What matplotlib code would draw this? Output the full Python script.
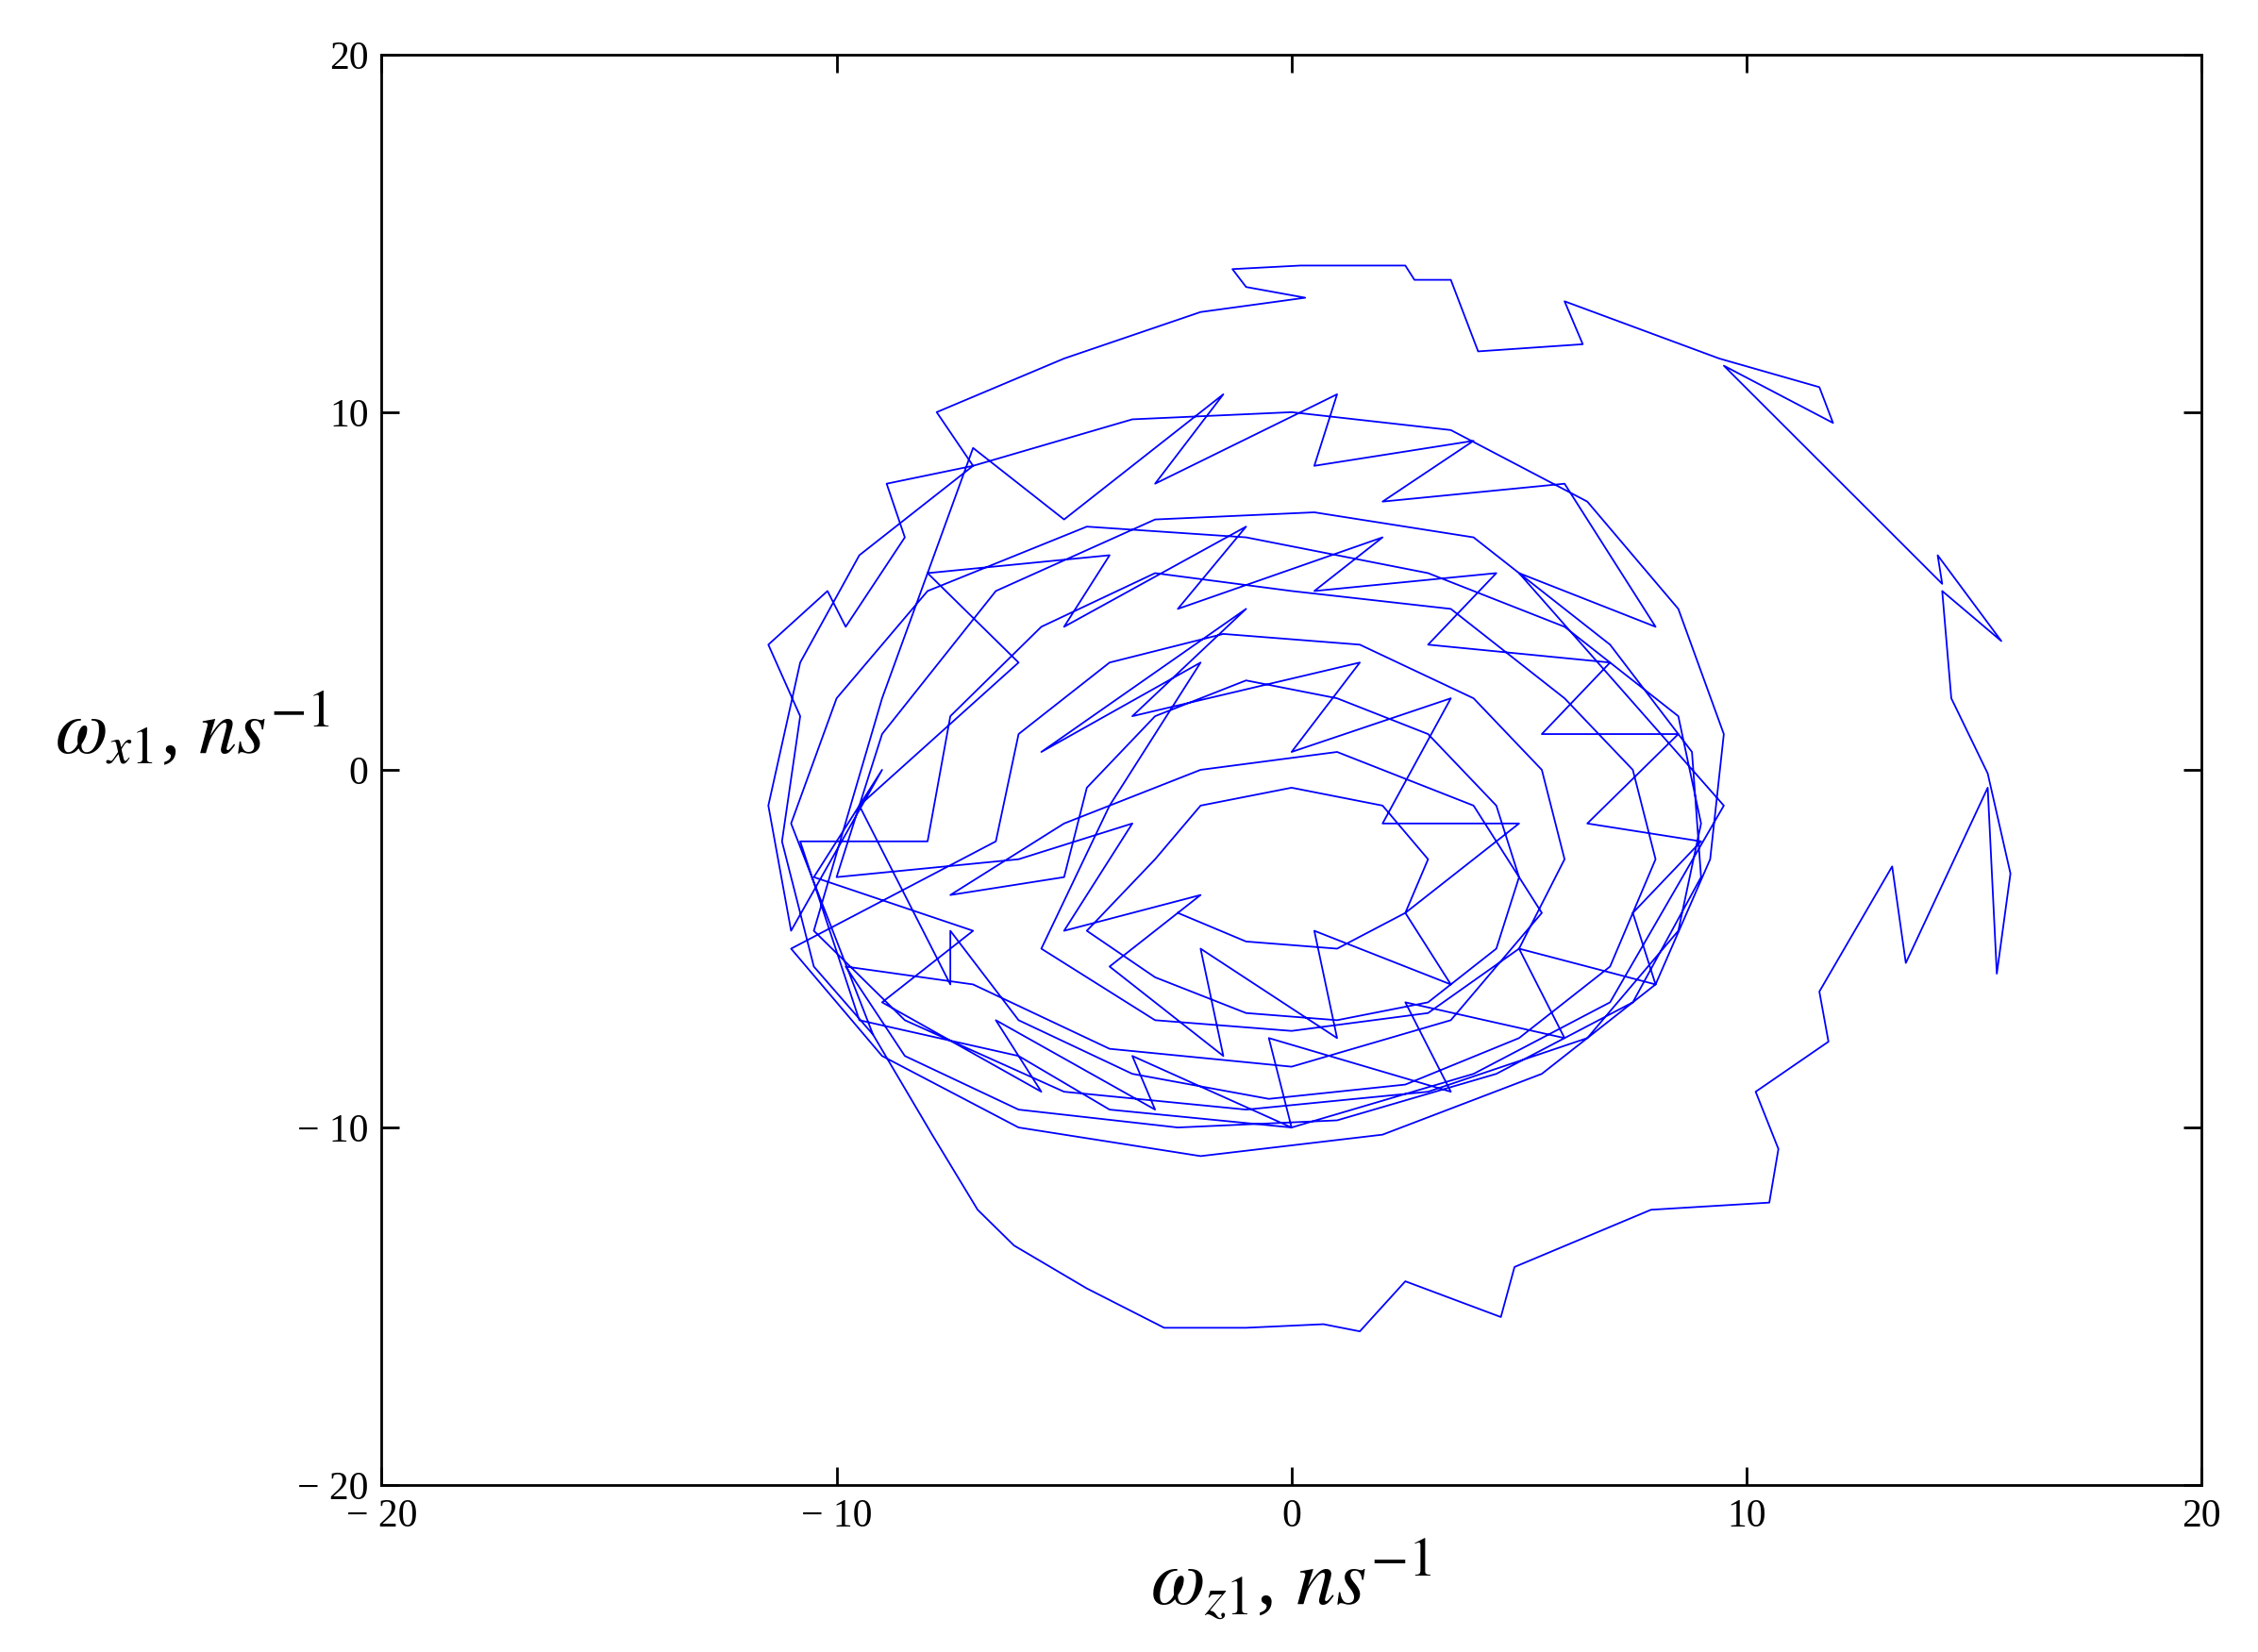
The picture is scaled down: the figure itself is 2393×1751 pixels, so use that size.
import matplotlib
matplotlib.use("Agg")
import matplotlib.pyplot as plt
plt.rcParams['mathtext.fontset'] = 'stix'

outer_z = [-9.2,-10.5,-11.2,-10.8,-11.5,-10.2,-9.8,-8.5,-8.9,-7.0,-7.8,-5.0,-2.0,0.3,-1.0,-1.3,0.2,2.5,2.7,3.5,4.1,6.4,6.0,9.4,11.6,11.9,9.5,14.3,14.2,15.6,14.3,14.5,15.3,15.8,15.5,15.3,13.5,13.2,11.6,11.8,10.2,10.7,10.5,7.9,4.9,4.6,2.5,1.5,0.7,-1.0,-2.8,-4.5,-6.1,-6.9,-7.9,-9.2]
outer_x = [-7.4,-5.5,-2.0,1.5,3.5,5.0,4.0,6.5,8.0,8.5,10.0,11.5,12.8,13.2,13.5,14.0,14.1,14.1,13.7,13.7,11.7,11.9,13.1,11.5,10.7,9.7,11.3,5.2,6.0,3.6,5.0,2.0,-0.1,-2.9,-5.7,-0.5,-5.4,-2.7,-6.2,-7.6,-9.0,-10.6,-12.1,-12.3,-13.9,-15.3,-14.3,-15.7,-15.5,-15.6,-15.6,-14.5,-13.3,-12.3,-10.2,-7.4]
loop1_z = [-11,-10,-8,-4.5,-1,3,6,8.5,9,8.5,6.5,3,-1,-5,-8.5,-10.5]
loop1_x = [-1.5,2,5,6.8,6.5,5.5,4,1.5,-1.5,-4.5,-7.5,-9,-9.5,-9,-7,-4.5]
loop2_z = [-8,-7.5,-5.5,-3,0,3.5,6,7.5,8,7,5,2.5,-0.5,-3.5,-6,-7.5]
loop2_x = [-2,1.5,4,5.5,5,4.5,2,0,-2.5,-5.5,-7.5,-8.8,-9.2,-8.5,-7,-4.5]
loop3_z = [-5,-4.5,-3,-1,1,3,4.5,5,4.5,3,1,-1,-3,-4.5]
loop3_x = [-3,-0.5,1.5,2.5,2,1,-1,-3,-5,-6.5,-7,-6.8,-5.8,-4.5]
loop4_z = [-11.5,-10.8,-9.5,-7,-3.5,0,3.5,6.5,8.5,9.5,9.2,8,5.5,2,-2,-6,-9,-11]
loop4_x = [-1,3,6,8.5,9.8,10,9.5,7.5,4.5,1,-2.5,-6,-8.5,-10.2,-10.8,-10,-8,-5]
loop5_z = [-6.5,-6,-4,-1.5,1.5,4,5.5,6,5,3,0,-3,-5.5]
loop5_x = [-2,1,3,3.8,3.5,2,0,-2.5,-5,-6.8,-7.3,-7,-5]
loop6_z = [-3,-2,0,2,3,2.5,1,-1,-2.5]
loop6_x = [-2.5,-1,-0.5,-1,-2.5,-4,-5,-4.8,-4]
loop7_z = [-9,-7,-5,-1.5,-3,1,0.5,4,2,6,8,5,9.5,7,4,0,-4,-6,-9.5,-10.8]
loop7_x = [2,9,7,10.5,8,10.5,8.5,9.2,7.5,8,4,5.5,-1,-6.5,-8.5,-10,-9.5,-8,-7,-2]
loop8_z = [-10,-9,-6.5,-3,0.5,4,7,8.8,9,7.5,4.5,1,-2.5,-6,-8.5,-9.8,-7,-4,0,3.5,5.5,4,1,-2,-5,-7.5]
loop8_x = [-3,1,5,7,7.2,6.5,3.5,0.5,-3,-6.5,-8.5,-9.8,-10,-9.5,-8,-5.5,-6,-7.8,-8.3,-7,-4,-1,0.5,0,-1.5,-3.5]
loop9_z = [-7.5,-9.5,-6,-8,-4,-5,-1,-2.5,2,0.5,4.5,3,7,5.5,8.5,6.5,9,7.5,8,5,6,2.5,3.5,-0.5,0,-3.5,-3,-6.5,-5.5,-9,-7,-10.5,-9,-11]
loop9_x = [-6,-1,3,5.5,6,4,6.8,4.5,6.5,5,5.5,3.5,3,1,1,-1.5,-2,-4,-6,-5,-7.5,-6.5,-9,-7.5,-10,-8,-9.5,-7,-9,-6.5,-4.5,-3,0,-4.5]
loop10_z = [-4,-2,-5.5,-1,-3.5,1.5,0,3.5,2,5,2.5,3.5,0.5,1,-2,-1.5,-4,-2,-5,-3.5,-6]
loop10_x = [-1,3,0.5,4.5,1.5,3,0.5,2,-1.5,-1.5,-4,-6,-4.5,-7.5,-5,-8,-5.5,-3.5,-4.5,-1.5,-2.5]

wz = outer_z + loop1_z + loop7_z + loop2_z + loop9_z + loop4_z + loop5_z + loop10_z + loop8_z + loop3_z + loop6_z
wx = outer_x + loop1_x + loop7_x + loop2_x + loop9_x + loop4_x + loop5_x + loop10_x + loop8_x + loop3_x + loop6_x

fig = plt.figure(figsize=(23.93, 17.51), dpi=100)
ax = fig.add_axes([0.169, 0.101, 0.806, 0.866])
ax.plot(wz, wx, color='#0000ff', lw=1.3)
ax.set_xlim(-20, 20); ax.set_ylim(-20, 20)
ticks = [-20, -10, 0, 10, 20]
labs = ['\u2212 20', '\u2212 10', '0', '10', '20']
ax.set_xticks(ticks); ax.set_xticklabels(labs)
ax.set_yticks(ticks); ax.set_yticklabels(labs)
ax.tick_params(direction='in', length=14, width=2, top=True, right=True, labelsize=30, pad=10)
for t in ax.get_xticklabels() + ax.get_yticklabels():
    t.set_fontfamily('Liberation Serif')
for s in ax.spines.values():
    s.set_linewidth(2)
ax.set_xlabel(r'$\omega_{z1}$, $ns^{-1}$', fontsize=60, fontfamily='Liberation Serif', labelpad=2)
ax.set_ylabel(r'$\omega_{x1}$, $ns^{-1}$', fontsize=58, fontfamily='Liberation Serif', rotation=0, labelpad=80)
fig.savefig('out.png', dpi=100)
